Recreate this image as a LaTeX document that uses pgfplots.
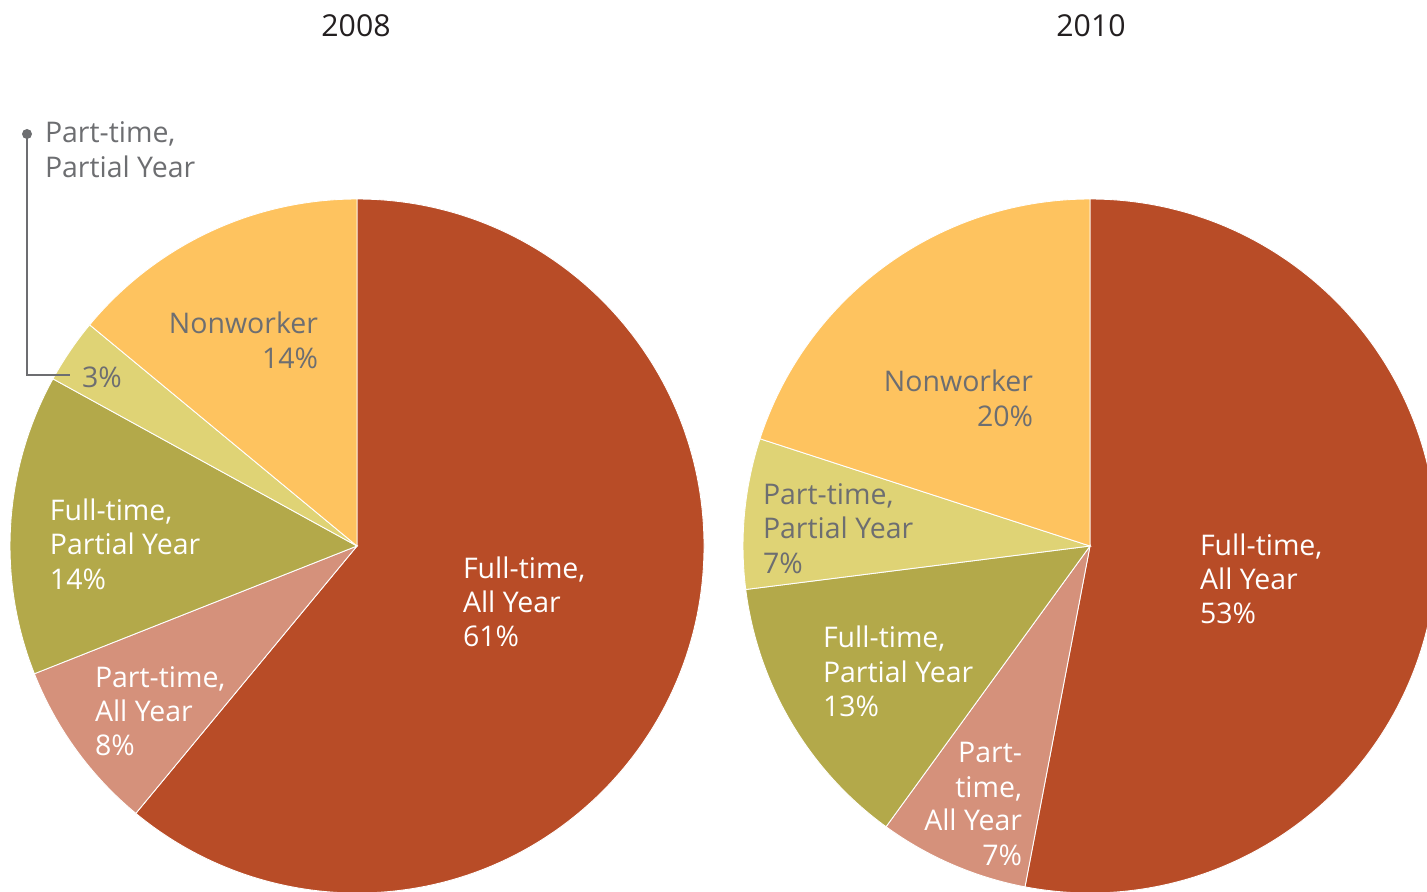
\documentclass[border=0pt]{standalone}
\usepackage{pgfplots}
\pgfplotsset{compat=1.18}
\usepackage{fontspec}
\setmainfont{Open Sans}
\definecolor{rust}{HTML}{B84C27}
\definecolor{salmon}{HTML}{D5917B}
\definecolor{olive}{HTML}{B3A94A}
\definecolor{ltyellow}{HTML}{DFD375}
\definecolor{orangey}{HTML}{FEC35F}
\definecolor{lblgray}{HTML}{6D6E71}
\definecolor{ttl}{HTML}{231F20}
\newcommand{\lf}{\fontsize{8.1}{9.7}\selectfont}
\tikzset{lb/.style={inner sep=0pt, outer sep=0pt, font=\lf}}
\begin{document}
\begin{tikzpicture}
\begin{axis}[scale only axis, width=14.27cm, height=8.91cm,
  xmin=0, xmax=1427, ymin=0, ymax=891, hide axis, clip=true]
% 2008 pie: 61, 8, 14, 3, 14
\foreach \v/\col [remember=\e as \s (initially 90), evaluate=\v as \e using \s-3.6*\v] in {61/rust,8/salmon,14/olive,3/ltyellow,14/orangey} {
  \edef\temp{\noexpand\fill[\col, draw=white, line width=0.25pt] (axis cs:357,345) -- ++(\s:3.47cm) arc[start angle=\s, end angle=\e, radius=3.47cm] -- cycle;}
  \temp
}
% 2010 pie: 53, 7, 13, 7, 20
\foreach \v/\col [remember=\e as \s (initially 90), evaluate=\v as \e using \s-3.6*\v] in {53/rust,7/salmon,13/olive,7/ltyellow,20/orangey} {
  \edef\temp{\noexpand\fill[\col, draw=white, line width=0.25pt] (axis cs:1090,345) -- ++(\s:3.47cm) arc[start angle=\s, end angle=\e, radius=3.47cm] -- cycle;}
  \temp
}
% titles
\node[lb, font=\fontsize{8.6}{10}\selectfont, anchor=base, text=ttl] at (axis cs:356,854) {2008};
\node[lb, font=\fontsize{8.6}{10}\selectfont, anchor=base, text=ttl] at (axis cs:1091,854) {2010};
% left labels
\node[lb, anchor=base west, text=white] at (axis cs:463,313) {Full-time,};
\node[lb, anchor=base west, text=white] at (axis cs:463,279) {All Year};
\node[lb, anchor=base west, text=white] at (axis cs:463,245) {61\%};
\node[lb, anchor=base west, text=white] at (axis cs:95,204) {Part-time,};
\node[lb, anchor=base west, text=white] at (axis cs:95,170) {All Year};
\node[lb, anchor=base west, text=white] at (axis cs:95,136) {8\%};
\node[lb, anchor=base west, text=white] at (axis cs:50,371) {Full-time,};
\node[lb, anchor=base west, text=white] at (axis cs:50,337) {Partial Year};
\node[lb, anchor=base west, text=white] at (axis cs:50,302) {14\%};
\node[lb, anchor=base west, text=lblgray] at (axis cs:82,504) {3\%};
\node[lb, anchor=base east, text=lblgray] at (axis cs:318,558) {Nonworker};
\node[lb, anchor=base east, text=lblgray] at (axis cs:318,523) {14\%};
\node[lb, anchor=base west, text=lblgray] at (axis cs:45,748) {Part-time,};
\node[lb, anchor=base west, text=lblgray] at (axis cs:45,713) {Partial Year};
\draw[lblgray, line width=0.6pt] (axis cs:27,757) -- (axis cs:27,516) -- (axis cs:70,516);
\fill[lblgray] (axis cs:27,757) circle[radius=0.05cm];
% right labels
\node[lb, anchor=base west, text=white] at (axis cs:1200,336) {Full-time,};
\node[lb, anchor=base west, text=white] at (axis cs:1200,302) {All Year};
\node[lb, anchor=base west, text=white] at (axis cs:1200,268) {53\%};
\node[lb, anchor=base east, text=lblgray] at (axis cs:1033,500) {Nonworker};
\node[lb, anchor=base east, text=lblgray] at (axis cs:1033,465) {20\%};
\node[lb, anchor=base west, text=lblgray] at (axis cs:763,387) {Part-time,};
\node[lb, anchor=base west, text=lblgray] at (axis cs:763,353) {Partial Year};
\node[lb, anchor=base west, text=lblgray] at (axis cs:763,318) {7\%};
\node[lb, anchor=base west, text=white] at (axis cs:823,244) {Full-time,};
\node[lb, anchor=base west, text=white] at (axis cs:823,209) {Partial Year};
\node[lb, anchor=base west, text=white] at (axis cs:823,175) {13\%};
\node[lb, anchor=base east, text=white] at (axis cs:1022,129) {Part-};
\node[lb, anchor=base east, text=white] at (axis cs:1022,94) {time,};
\node[lb, anchor=base east, text=white] at (axis cs:1022,61) {All Year};
\node[lb, anchor=base east, text=white] at (axis cs:1022,26) {7\%};
\end{axis}
\useasboundingbox (current axis.south west) rectangle (current axis.north east);
\end{tikzpicture}
\end{document}
